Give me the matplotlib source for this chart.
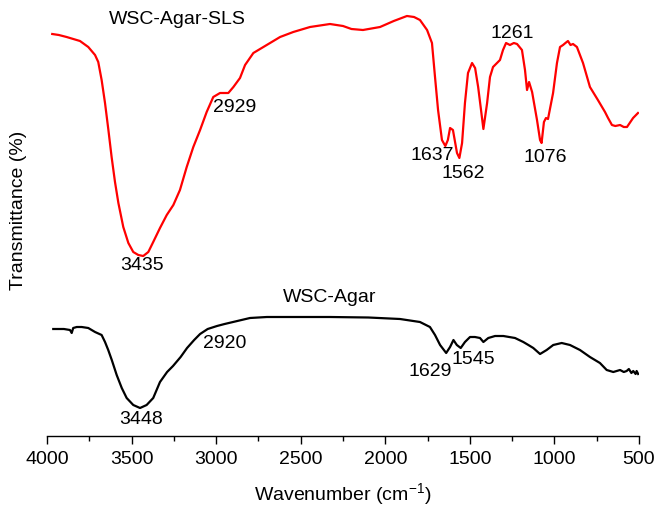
import matplotlib
matplotlib.use("Agg")
import matplotlib.pyplot as plt
from matplotlib.ticker import MultipleLocator

plt.rcParams['font.family'] = ['Liberation Sans', 'DejaVu Sans']
plt.rcParams['mathtext.default'] = 'regular'

# WSC-Agar-SLS spectrum: wavenumber (cm-1) and depth
wn_sls = [3969, 3930, 3884, 3805, 3756, 3716, 3697, 3677, 3657, 3637, 3618, 3598,
          3578, 3549, 3519, 3490, 3460, 3431, 3401, 3372, 3332, 3292, 3253, 3214,
          3174, 3135, 3095, 3056, 3017, 2977, 2928, 2898, 2859, 2829, 2780, 2701,
          2622, 2544, 2445, 2327, 2250, 2200, 2132, 2031, 1950, 1872, 1830, 1795,
          1753, 1724, 1706, 1688, 1665, 1645, 1630, 1617, 1600, 1576, 1562, 1546,
          1529, 1511, 1487, 1469, 1451, 1434, 1420, 1398, 1381, 1363, 1322, 1304,
          1286, 1263, 1240, 1221, 1192, 1174, 1162, 1150, 1132, 1103, 1085, 1076,
          1062, 1050, 1038, 1008, 985, 967, 949, 935, 920, 905, 890, 867, 831,
          790, 743, 701, 683, 660, 640, 612, 590, 571, 535, 506]
py_sls = [34, 35, 37, 41, 47, 55, 62, 80, 103, 130, 157, 182,
          203, 227, 243, 252, 255, 256, 252, 242, 228, 215, 205, 190,
          167, 147, 130, 112, 97, 93, 93, 87, 78, 65, 53, 45,
          37, 32, 27, 24, 26, 29, 30, 27, 21, 16, 17, 20,
          30, 43, 77, 110, 140, 146, 140, 128, 130, 153, 158, 143,
          103, 73, 63, 68, 87, 110, 129, 103, 77, 67, 60, 50,
          43, 45, 43, 44, 50, 70, 90, 82, 92, 120, 140, 143,
          122, 118, 119, 93, 63, 47, 45, 43, 41, 45, 44, 47, 63,
          87, 100, 112, 118, 125, 126, 125, 127, 127, 118, 113]
t_sls = [480 - v for v in py_sls]

# WSC-Agar spectrum
wn_agar = [3963, 3900, 3864, 3854, 3845, 3824, 3795, 3756, 3716, 3677, 3657, 3638,
           3617, 3588, 3558, 3529, 3490, 3450, 3411, 3372, 3332, 3290, 3255, 3210,
           3172, 3130, 3095, 3050, 2995, 2950, 2900, 2800, 2700, 2327, 2100, 1913,
           1795, 1736, 1706, 1676, 1640, 1617, 1597, 1577, 1554, 1529, 1499, 1470,
           1440, 1420, 1391, 1351, 1302, 1233, 1184, 1154, 1125, 1085, 1046, 1007,
           957, 908, 849, 790, 731, 691, 652, 612, 590, 573, 560, 545, 534, 520,
           514, 505]
py_agar = [329, 329, 330, 333, 328, 327, 327, 328, 332, 335, 342, 350,
           360, 375, 388, 398, 405, 408, 405, 398, 382, 372, 366, 357,
           348, 340, 334, 329, 326, 324, 322, 318, 317, 317, 317.5, 319,
           322, 327, 335, 345, 353, 347, 340, 345, 348, 342, 337, 337,
           338, 342, 338, 336, 336, 338, 342, 345, 348, 354, 350, 345,
           343, 345, 350, 357, 363, 370, 372, 370, 372, 371, 369, 373, 371, 374,
           371, 374]
t_agar = [480 - v for v in py_agar]

labels_sls = [("WSC-Agar-SLS", 3231, 460), ("2929", 2888, 372), ("3435", 3438, 214),
              ("1637", 1724, 324), ("1562", 1540, 307), ("1261", 1251, 446),
              ("1076", 1056, 322)]
labels_agar = [("WSC-Agar", 2327, 183), ("2920", 2948, 136), ("3448", 3444, 60),
               ("1629", 1736, 109), ("1545", 1481, 120)]

FS = 14
fig = plt.figure(figsize=(6.6, 5.12), dpi=100)
ax = fig.add_axes([47 / 660, 1 - 436 / 512, 592 / 660, 436 / 512])
ax.plot(wn_sls, t_sls, color='#ff0000', lw=1.6)
ax.plot(wn_agar, t_agar, color='black', lw=1.6)
for txt, x, y in labels_sls + labels_agar:
    ax.text(x, y, txt, ha='center', va='center', fontsize=FS)

ax.set_xlim(4000, 500)
ax.set_ylim(44, 480)
ax.xaxis.set_major_locator(MultipleLocator(500))
ax.xaxis.set_minor_locator(MultipleLocator(250))
ax.tick_params(axis='x', which='major', direction='out', length=6, width=1, labelsize=FS, pad=5)
ax.tick_params(axis='x', which='minor', direction='out', length=3.5, width=1)
ax.set_yticks([])
for s in ['top', 'right', 'left']:
    ax.spines[s].set_visible(False)
ax.spines['bottom'].set_linewidth(1)
ax.set_xlabel('Wavenumber (cm$^{-1}$)', fontsize=FS, labelpad=9)
fig.text(18.5 / 660, 1 - 210 / 512, 'Transmittance (%)', rotation=90,
         ha='center', va='center', fontsize=FS)
fig.savefig('out.png', dpi=100)
